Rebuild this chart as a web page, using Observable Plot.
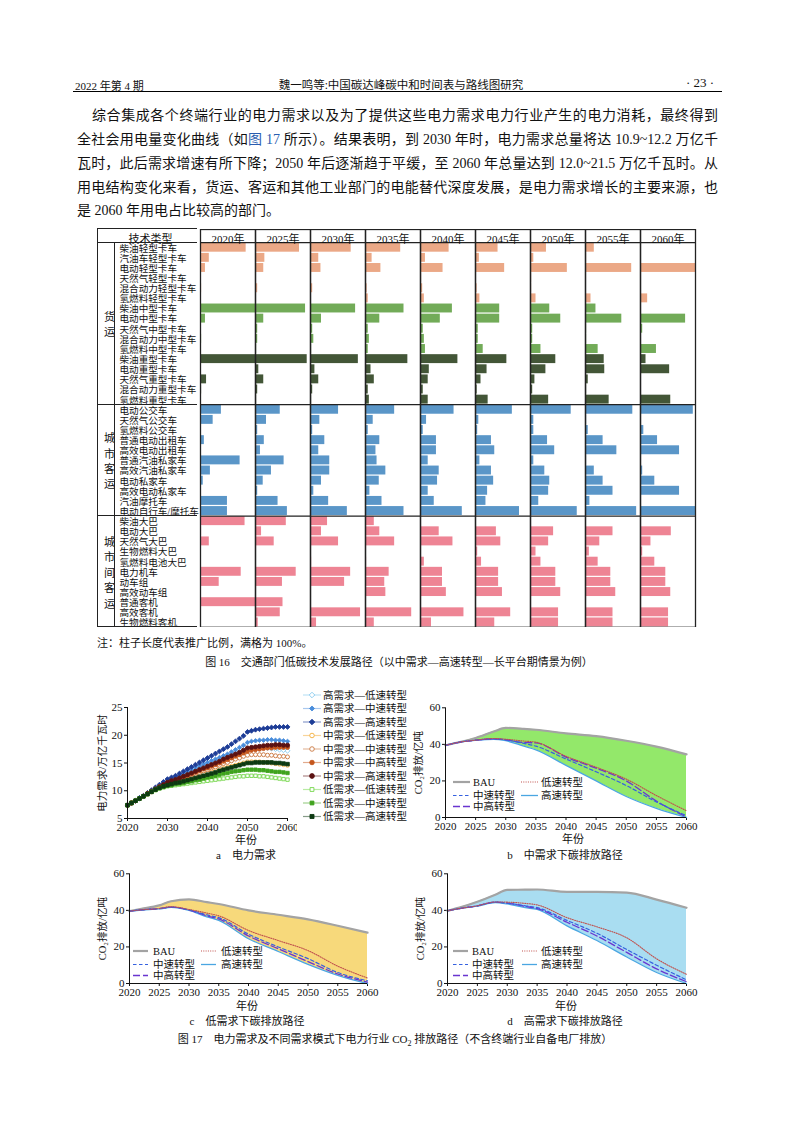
<!DOCTYPE html>
<html><head><meta charset="utf-8">
<script src="https://cdn.jsdelivr.net/npm/d3@7"></script>
<script src="https://cdn.jsdelivr.net/npm/@observablehq/plot@0.6"></script>
<style>
body{margin:0;width:794px;height:1123px;position:relative;background:#fff;overflow:hidden;
 font-family:"Liberation Serif","Noto Sans CJK SC",serif;color:#111}
.abs{position:absolute;white-space:nowrap}
.p{position:absolute;font-size:14px;line-height:24px;white-space:nowrap;text-align:justify;text-align-last:justify}
.cap{position:absolute;font-size:11px;text-align:center;white-space:nowrap}
</style></head><body>
<div class="abs" style="left:75px;top:77px;font-size:11px">2022 年第 4 期</div>
<div class="abs" style="left:0;width:802px;text-align:center;top:76px;font-size:11.5px">魏一鸣等:中国碳达峰碳中和时间表与路线图研究</div>
<div class="abs" style="left:686px;top:75px;font-size:13px">· 23 ·</div>
<div class="abs" style="left:73px;top:91px;width:649px;border-top:1.5px solid #000"></div>

<div class="p" style="left:92px;top:104px;width:626px">综合集成各个终端行业的电力需求以及为了提供这些电力需求电力行业产生的电力消耗，最终得到</div>
<div class="p" style="left:77px;top:128px;width:641px">全社会用电量变化曲线（如<span style="color:#2a5db0">图 17</span> 所示）。结果表明，到 2030 年时，电力需求总量将达 10.9~12.2 万亿千</div>
<div class="p" style="left:77px;top:152px;width:641px">瓦时，此后需求增速有所下降；2050 年后逐渐趋于平缓，至 2060 年总量达到 12.0~21.5 万亿千瓦时。从</div>
<div class="p" style="left:77px;top:176px;width:641px">用电结构变化来看，货运、客运和其他工业部门的电能替代深度发展，是电力需求增长的主要来源，也</div>
<div class="p" style="left:77px;top:199px;text-align:left;text-align-last:left">是 2060 年用电占比较高的部门。</div>

<div id="fig16" class="abs" style="left:97px;top:229px;width:600px;height:399px"></div>
<div class="abs" style="left:97px;top:634px;font-size:11px">注：柱子长度代表推广比例，满格为 100%。</div>
<div class="cap" style="left:0;width:798px;top:653px">图 16　交通部门低碳技术发展路径（以中需求—高速转型—长平台期情景为例）</div>

<div id="figA" class="abs" style="left:90px;top:700px"></div>
<div id="legA" class="abs" style="left:302px;top:688px"></div>
<div id="figB" class="abs" style="left:400px;top:700px"></div>
<div id="legB" class="abs" style="left:400px;top:770px"></div>
<div id="figC" class="abs" style="left:84px;top:866px"></div>
<div id="legC" class="abs" style="left:84px;top:939px"></div>
<div id="figD" class="abs" style="left:402px;top:866px"></div>
<div id="legD" class="abs" style="left:402px;top:939px"></div>

<div class="cap" style="left:196px;width:100px;top:831px">年份</div>
<div class="cap" style="left:146px;width:200px;top:846px">a　电力需求</div>
<div class="cap" style="left:523px;width:100px;top:830px">年份</div>
<div class="cap" style="left:465px;width:200px;top:846px">b　中需求下碳排放路径</div>
<div class="cap" style="left:197px;width:100px;top:997px">年份</div>
<div class="cap" style="left:147px;width:200px;top:1012px">c　低需求下碳排放路径</div>
<div class="cap" style="left:516px;width:100px;top:997px">年份</div>
<div class="cap" style="left:465px;width:200px;top:1012px">d　高需求下碳排放路径</div>
<div class="cap" style="left:0;width:790px;top:1030px">图 17　电力需求及不同需求模式下电力行业 CO<sub style="font-size:8px">2</sub> 排放路径（不含终端行业自备电厂排放）</div>

<script>
const FONT = '"Liberation Serif","Noto Sans CJK SC",serif';

// ---------- Figure 16 data ----------
const years16 = [2020, 2025, 2030, 2035, 2040, 2045, 2050, 2055, 2060];
const groupNames = ["货运", "城市客运", "城市间客运"];
const freightTechs = ["柴油轻型卡车","汽油车轻型卡车","电动轻型卡车","天然气轻型卡车","混合动力轻型卡车","氢燃料轻型卡车",
  "柴油中型卡车","电动中型卡车","天然气中型卡车","混合动力中型卡车","氢燃料中型卡车",
  "柴油重型卡车","电动重型卡车","天然气重型卡车","混合动力重型卡车","氢燃料重型卡车"];
const freightShares = [
  [83,80,74,64,52,41,29,16,0],
  [16,17,15,12,9,7,6,2,0],
  [9,15,19,28,41,53,67,84,100],
  [0,0,0,1,2,0,2,0,0],
  [2,4,4,3,4,3,2,0,0],
  [0,0,0,5,7,8,10,10,13],
  [100,91,82,70,58,44,35,19,0],
  [9,15,20,26,36,44,55,66,82],
  [0,4,4,5,5,5,4,2,4],
  [2,4,6,7,7,5,4,2,0],
  [0,2,2,5,9,14,19,23,29],
  [100,94,87,77,68,57,46,34,10],
  [0,6,8,10,16,21,28,35,53],
  [11,15,15,16,14,10,8,5,0],
  [2,4,4,5,5,3,4,2,0],
  [0,2,2,7,14,23,33,43,55]
];
const cityTechs = ["电动公交车","天然气公交车","氢燃料公交车","普通电动出租车","高效电动出租车","普通汽油私家车",
  "高效汽油私家车","电动私家车","高效电动私家车","汽油摩托车","电动自行车/摩托车"];
const cityShares = [
  [38,45,51,53,61,67,74,86,96],
  [23,20,17,14,11,6,6,2,0],
  [0,4,4,5,5,4,6,5,6],
  [7,16,26,26,29,29,31,32,31],
  [0,9,15,19,29,35,44,57,71],
  [72,52,35,21,14,8,6,2,0],
  [18,29,35,37,34,29,26,16,4],
  [5,14,20,25,31,33,35,32,26],
  [0,4,6,8,14,22,33,50,71],
  [49,41,33,30,25,19,15,8,0],
  [49,58,67,70,76,80,85,93,100]
];
const intercityTechs = ["柴油大巴","电动大巴","天然气大巴","生物燃料大巴","氢燃料电池大巴","电力机车","动车组",
  "高效动车组","普通客机","高效客机","生物燃料客机"];
const intercityShares = [
  [81,56,31,16,0,0,0,0,0],
  [2,11,20,26,34,38,42,50,56],
  [16,34,51,53,59,46,33,26,19],
  [0,0,0,0,0,4,10,7,4],
  [0,0,2,2,7,11,19,23,26],
  [74,74,73,43,40,42,46,46,46],
  [34,49,62,35,40,42,46,46,46],
  [0,0,0,37,47,49,55,55,55],
  [100,50,0,0,0,0,0,0,0],
  [0,45,91,84,79,64,51,50,51],
  [0,5,11,16,20,35,51,50,51]
];
const headerLabel = "技术类型";
const c16 = {light: "#EBA886", medium: "#72AB58", heavy: "#435637", city: "#5A96C8", intercity: "#EE8494"};
function colorOf(group, tech) {
  if (group === groupNames[1]) return c16.city;
  if (group === groupNames[2]) return c16.intercity;
  if (tech.includes("轻型")) return c16.light;
  if (tech.includes("中型")) return c16.medium;
  return c16.heavy;
}
const groups = [
  {name: groupNames[0], techs: freightTechs, shares: freightShares},
  {name: groupNames[1], techs: cityTechs, shares: cityShares},
  {name: groupNames[2], techs: intercityTechs, shares: intercityShares}
];
const rows16 = [], bars16 = [], bounds16 = [0];
let idx = 0;
groups.forEach(g => {
  g.start = idx;
  g.techs.forEach((t, k) => {
    rows16.push({tech: t, row: idx});
    years16.forEach((y, j) => bars16.push({year: y, row: idx, value: g.shares[k][j], color: colorOf(g.name, t)}));
    idx++;
  });
  g.end = idx;
  bounds16.push(idx);
});
const HEAD = 1.3;
const fig16 = Plot.plot({
  width: 600, height: 398,
  marginLeft: 100, marginRight: 0, marginTop: 0, marginBottom: 0,
  style: {fontFamily: FONT, fontSize: "10px", color: "#111", background: "transparent"},
  fx: {domain: years16, padding: 0, axis: null, label: null},
  x: {domain: [0, 100], axis: null},
  y: {domain: [-HEAD, idx], reverse: true, axis: null},
  color: {type: "identity"},
  marks: [
    Plot.rect(bars16.filter(d => d.value > 0), {fx: "year", x1: () => 0, x2: "value", y1: "row", y2: d => d.row + 1,
      fill: "color", insetTop: 0.6, insetBottom: 0.6}),
    Plot.ruleY(bounds16, {stroke: "#222", strokeWidth: 1.3}),
    Plot.frame({stroke: "#222", strokeWidth: 1.3}),
    Plot.text(years16, {fx: d => d, text: d => d + "年", frameAnchor: "top", dy: 6, fontSize: 11}),
    Plot.text(rows16, {fx: () => years16[0], y: d => d.row + 0.5, text: "tech", frameAnchor: "left",
      textAnchor: "start", dx: -81, dy: 0.8, fontSize: 9.6}),
    Plot.text(groups, {fx: () => years16[0], y: d => (d.start + d.end) / 2, text: d => [...d.name].join("\n"),
      frameAnchor: "left", textAnchor: "middle", dx: -91, lineHeight: 1.4, fontSize: 11}),
    Plot.text([headerLabel], {fx: () => years16[0], text: d => d, frameAnchor: "top-left", dx: -50, dy: 6,
      textAnchor: "middle", fontSize: 11})
  ]
});
const f16 = document.getElementById("fig16");
f16.appendChild(fig16);
// label-area borders positioned through the plot's own y scale
const ys16 = fig16.scale("y");
function hline(y, x0, x1) {
  const d = document.createElement("div");
  d.className = "abs";
  d.style.cssText = `left:${x0}px;top:${y - 0.65}px;width:${x1 - x0}px;height:0;border-top:1.3px solid #222`;
  f16.appendChild(d);
}
function vline(x, y0, y1) {
  const d = document.createElement("div");
  d.className = "abs";
  d.style.cssText = `left:${x - 0.65}px;top:${y0}px;width:0;height:${y1 - y0}px;border-left:1.3px solid #222`;
  f16.appendChild(d);
}
[-HEAD, ...bounds16].forEach(v => hline(ys16.apply(v), 0, 100));
vline(0.6, ys16.apply(-HEAD), ys16.apply(idx));
vline(18, ys16.apply(0), ys16.apply(idx));

// ---------- Figure 17a data ----------
const yearsA = [2020,2021,2022,2023,2024,2025,2026,2027,2028,2029,2030,2031,2032,2033,2034,2035,2036,2037,2038,2039,
  2040,2041,2042,2043,2044,2045,2046,2047,2048,2049,2050,2051,2052,2053,2054,2055,2056,2057,2058,2059,2060];
const xTicksA = [2020, 2030, 2040, 2050, 2060];
const yTicksA = [5, 10, 15, 20, 25];
const yLabelA = "电力需求/万亿千瓦时";
const hiLow  = [7.4,7.8,8.2,8.6,9.0,9.5,9.9,10.4,10.8,11.2, 11.6,11.9,12.2,12.5,12.8,13.1,13.4,13.7,14.0,14.3, 14.6,14.9,15.2,15.5,15.8,16.1,16.4,16.7,17.0,17.3, 17.6,17.7,17.8,17.8,17.8,17.7,17.6,17.5,17.4,17.3,17.2];
const hiMid  = [7.4,7.8,8.2,8.7,9.1,9.6,10.0,10.5,10.9,11.4, 11.8,12.1,12.4,12.8,13.2,13.5,13.8,14.2,14.5,14.8, 15.1,15.4,15.7,16.0,16.3,16.6,17.0,17.4,17.8,18.2, 18.7,18.9,19.0,19.1,19.1,19.2,19.2,19.1,19.1,19.0,18.9];
const hiHigh = [7.4,7.8,8.2,8.7,9.1,9.6,10.1,10.6,11.1,11.6, 12.1,12.4,12.7,13.1,13.5,13.9,14.3,14.7,15.1,15.5, 15.9,16.3,16.7,17.1,17.5,17.9,18.4,18.9,19.4,19.9, 20.6,20.8,21.0,21.1,21.2,21.3,21.4,21.5,21.5,21.5,21.5];
const midLow = [7.4,7.8,8.2,8.6,9.0,9.4,9.8,10.2,10.6,10.9, 11.2,11.4,11.6,11.8,12.0,12.2,12.4,12.6,12.8,13.0, 13.2,13.4,13.6,13.8,14.0,14.2,14.4,14.6,14.8,15.0, 15.2,15.2,15.2,15.2,15.1,15.1,15.0,14.9,14.8,14.7,14.6];
const midMid = [7.4,7.8,8.2,8.6,9.0,9.5,9.9,10.3,10.7,11.0, 11.3,11.5,11.8,12.0,12.3,12.5,12.8,13.0,13.3,13.6, 13.8,14.1,14.3,14.6,14.9,15.1,15.4,15.7,15.9,16.2, 16.4,16.5,16.5,16.5,16.5,16.4,16.4,16.3,16.2,16.2,16.1];
const midMidHigh = [7.4,7.8,8.2,8.6,9.0,9.5,9.9,10.3,10.7,11.0, 11.4,11.7,11.9,12.2,12.5,12.7,13.0,13.3,13.6,13.9, 14.1,14.4,14.7,15.0,15.3,15.6,15.9,16.2,16.5,16.8, 17.1,17.3,17.4,17.5,17.6,17.7,17.7,17.8,17.8,17.8,17.8];
const midHigh = [7.4,7.8,8.2,8.6,9.0,9.5,9.9,10.3,10.7,11.1, 11.5,11.8,12.0,12.3,12.6,12.9,13.2,13.5,13.8,14.1, 14.4,14.7,15.0,15.3,15.7,16.0,16.3,16.6,16.9,17.3, 17.7,17.8,17.9,18.0,18.1,18.2,18.2,18.3,18.3,18.2,18.2];
const lowLow = [7.4,7.8,8.2,8.6,9.0,9.4,9.8,10.1,10.4,10.6, 10.8,10.9,11.0,11.1,11.2,11.3,11.4,11.5,11.6,11.7, 11.8,11.9,12.0,12.1,12.2,12.3,12.4,12.5,12.6,12.6, 12.7,12.7,12.7,12.6,12.6,12.5,12.4,12.3,12.2,12.1,12.0];
const lowMid = [7.4,7.8,8.2,8.6,9.0,9.4,9.8,10.2,10.5,10.7, 10.9,11.0,11.2,11.3,11.4,11.6,11.7,11.9,12.0,12.2, 12.4,12.5,12.7,12.9,13.1,13.2,13.4,13.5,13.6,13.7, 13.8,13.8,13.8,13.7,13.7,13.6,13.5,13.4,13.4,13.3,13.2];
const lowHigh = [7.4,7.8,8.2,8.6,9.0,9.4,9.8,10.2,10.5,10.8, 11.0,11.2,11.4,11.5,11.7,11.9,12.1,12.3,12.5,12.7, 12.9,13.1,13.3,13.6,13.8,14.0,14.2,14.4,14.6,14.8, 15.0,15.0,15.1,15.1,15.1,15.1,15.1,15.0,15.0,14.9,14.8];
const seriesNamesA = ["高需求—低速转型","高需求—中速转型","高需求—高速转型","中需求—低速转型","中需求—中速转型",
  "中需求—中高转型","中需求—高速转型","低需求—低速转型","低需求—中速转型","低需求—高速转型"];
const seriesValuesA = [hiLow, hiMid, hiHigh, midLow, midMid, midMidHigh, midHigh, lowLow, lowMid, lowHigh];
const styleA = [
  {symbol: "diamond2", color: "#86C9EE", line: "#BFE3F6", hollow: true, r: 2.2},
  {symbol: "diamond2", color: "#4A8DDB", line: "#A9C8EE", hollow: false, r: 2.0},
  {symbol: "diamond2", color: "#1D3C96", line: "#8B9CCB", hollow: false, r: 2.2},
  {symbol: "circle", color: "#F3AE3A", line: "#F8D49A", hollow: true, r: 2.0},
  {symbol: "circle", color: "#C9773F", line: "#E4BB9E", hollow: true, r: 2.0},
  {symbol: "circle", color: "#C4561C", line: "#E2AA8D", hollow: false, r: 2.0},
  {symbol: "circle", color: "#5B1212", line: "#AD8888", hollow: false, r: 2.1},
  {symbol: "square", color: "#74D64A", line: "#B9EBA4", hollow: true, r: 1.9},
  {symbol: "square", color: "#3FA31D", line: "#9FD18E", hollow: false, r: 1.9},
  {symbol: "square", color: "#0D3A12", line: "#869C88", hollow: false, r: 2.0}
];
const plotA = Plot.plot({
  width: 207, height: 148, marginLeft: 37, marginRight: 10, marginTop: 7, marginBottom: 30,
  style: {fontFamily: FONT, fontSize: "11px", color: "#111", background: "transparent"},
  x: {domain: [2020, 2060], ticks: xTicksA, tickFormat: d => String(d), tickSize: 3, tickPadding: 2, label: null},
  y: {domain: [5, 25], ticks: yTicksA, tickSize: 3, tickPadding: 2, label: null},
  marks: [
    ...seriesValuesA.flatMap((vals, i) => [
      Plot.line(yearsA, {x: yearsA, y: vals, stroke: styleA[i].line, strokeWidth: 1}),
      Plot.dot(yearsA, {x: yearsA, y: vals, symbol: styleA[i].symbol, r: styleA[i].r, stroke: styleA[i].color,
        fill: styleA[i].hollow ? "#fff" : styleA[i].color, strokeWidth: 0.9})
    ]),
    Plot.ruleX([2020], {stroke: "#111"}),
    Plot.ruleY([5], {stroke: "#111"}),
    Plot.text([yLabelA], {text: d => d, frameAnchor: "left", textAnchor: "middle", rotate: -90, dx: -25, fontSize: 10.5})
  ]
});
document.getElementById("figA").appendChild(plotA);

// legend for 17a
const symMap = {diamond2: d3.symbolDiamond2, circle: d3.symbolCircle, square: d3.symbolSquare};
const legA = d3.create("svg").attr("width", 120).attr("height", 140)
  .style("font-family", FONT).style("font-size", "10.5px");
seriesNamesA.forEach((name, i) => {
  const st = styleA[i];
  const g = legA.append("g").attr("transform", `translate(0,${7 + i * 13.5})`);
  g.append("line").attr("x1", 1).attr("x2", 19).attr("stroke", st.line).attr("stroke-width", 1.2);
  g.append("path").attr("d", d3.symbol(symMap[st.symbol], Math.PI * st.r * st.r * 1.3)())
    .attr("transform", "translate(10,0)").attr("stroke", st.color).attr("stroke-width", 0.9)
    .attr("fill", st.hollow ? "#fff" : st.color);
  g.append("text").attr("x", 21).attr("dy", "0.36em").attr("fill", "#111").text(name);
});
document.getElementById("legA").appendChild(legA.node());

// ---------- Figure 17 b/c/d data ----------
const co2Label = "CO₂排放/亿吨";
const co2XTicks = [2020, 2025, 2030, 2035, 2040, 2045, 2050, 2055, 2060];
const co2YTicks = [0, 20, 40, 60];
const scenarioNames = ["BAU", "低速转型", "中速转型", "中高转型", "高速转型"];
const yearsB = [2020, 2022, 2025, 2028, 2030, 2033, 2035, 2040, 2045, 2050, 2055, 2060];
const bauB   = [39.5, 41.0, 43.5, 47.0, 49.0, 48.5, 48.0, 46.0, 44.5, 42.0, 38.8, 34.5];
const lowB   = [39.5, 41.0, 42.3, 43.2, 42.8, 41.8, 41.2, 33.5, 27.5, 21.0, 12.0, 3.7];
const midB   = [39.5, 41.0, 42.3, 43.0, 42.5, 40.5, 39.0, 32.0, 25.0, 17.5, 8.5, 1.0];
const mhB    = [39.5, 41.0, 42.3, 43.0, 42.5, 41.0, 40.8, 33.0, 27.0, 20.0, 9.0, 0.3];
const highB  = [39.5, 41.0, 42.2, 42.8, 42.0, 39.0, 37.0, 28.5, 20.0, 11.5, 5.0, 0.0];
const yearsC = [2020, 2022, 2025, 2027, 2030, 2033, 2035, 2040, 2045, 2050, 2055, 2060];
const bauC   = [39.6, 40.8, 42.7, 45.0, 46.0, 44.5, 43.5, 40.0, 37.6, 35.1, 31.6, 27.8];
const lowC   = [39.6, 40.3, 41.0, 42.0, 40.5, 38.5, 37.0, 29.0, 23.5, 18.0, 9.5, 3.0];
const midC   = [39.6, 40.3, 41.0, 41.8, 40.3, 37.5, 36.0, 27.0, 20.0, 13.6, 6.0, 1.5];
const mhC    = [39.6, 40.3, 41.0, 41.8, 40.2, 37.0, 35.3, 26.0, 19.0, 12.0, 5.2, 0.8];
const highC  = [39.6, 40.2, 40.8, 41.6, 40.0, 36.5, 34.5, 24.5, 17.5, 10.5, 4.5, 0.0];
const yearsD = [2020, 2022, 2025, 2028, 2030, 2033, 2035, 2040, 2045, 2050, 2055, 2060];
const bauD   = [39.8, 41.5, 44.7, 48.5, 51.2, 51.3, 51.4, 50.1, 50.1, 49.7, 45.9, 41.4];
const lowD   = [39.8, 41.0, 42.5, 44.6, 44.5, 43.8, 43.0, 36.0, 31.0, 25.0, 13.5, 5.0];
const midD   = [39.8, 41.0, 42.5, 44.5, 44.0, 42.5, 41.5, 34.5, 27.5, 18.6, 10.0, 2.0];
const mhD    = [39.8, 41.0, 42.5, 44.5, 44.0, 42.2, 41.0, 33.5, 26.0, 17.0, 8.0, 1.0];
const highD  = [39.8, 41.0, 42.3, 44.3, 43.5, 41.5, 40.5, 31.5, 23.5, 14.5, 6.0, 0.0];

const lineStyles = [
  {stroke: "#A3A3A3", width: 2.2, dash: null},
  {stroke: "#C0504D", width: 1.1, dash: "1,1.3"},
  {stroke: "#3561E0", width: 1.2, dash: "3.5,2.5"},
  {stroke: "#6A35D0", width: 1.3, dash: "7,3"},
  {stroke: "#4AA6E2", width: 1.3, dash: null}
];
function co2Plot(years, series, fill, width, height) {
  const order = [0, 4, 3, 2, 1];
  return Plot.plot({
    width, height, marginLeft: 45, marginRight: 14, marginTop: 7.3, marginBottom: height - 7.3 - 109.7,
    style: {fontFamily: FONT, fontSize: "11px", color: "#111", background: "transparent"},
    x: {domain: [2020, 2060], ticks: co2XTicks, tickFormat: d => String(d), tickSize: 3, tickPadding: 2, label: null},
    y: {domain: [0, 60], ticks: co2YTicks, tickSize: 3, tickPadding: 2, label: null},
    marks: [
      Plot.areaY(years, {x: years, y1: series[4], y2: series[0], fill, curve: "monotone-x"}),
      ...order.map(k => Plot.line(years, {x: years, y: series[k], stroke: lineStyles[k].stroke,
        strokeWidth: lineStyles[k].width, strokeDasharray: lineStyles[k].dash, curve: "monotone-x"})),
      Plot.ruleX([2020], {stroke: "#111"}),
      Plot.ruleY([0], {stroke: "#111"}),
      Plot.text([co2Label], {text: d => d, frameAnchor: "left", textAnchor: "middle", rotate: -90, dx: -27, fontSize: 10.5})
    ]
  });
}
document.getElementById("figB").appendChild(co2Plot(yearsB, [bauB, lowB, midB, mhB, highB], "#93E86A", 300, 137));
document.getElementById("figC").appendChild(co2Plot(yearsC, [bauC, lowC, midC, mhC, highC], "#F7D97B", 297, 137));
document.getElementById("figD").appendChild(co2Plot(yearsD, [bauD, lowD, midD, mhD, highD], "#A9DDF1", 298, 138));

// legends for b/c/d
function co2Legend(el, col1x, col2x, lineLen, textGap) {
  const svg = d3.create("svg").attr("width", 200).attr("height", 50)
    .style("font-family", FONT).style("font-size", "10.5px");
  const slots = [[col1x, 0], [col2x, 0], [col1x, 13.5], [col1x, 24.5], [col2x, 13.5]];
  scenarioNames.forEach((name, k) => {
    const [x, y] = slots[k];
    const g = svg.append("g").attr("transform", `translate(${x},${12 + y})`);
    g.append("line").attr("x1", 0).attr("x2", lineLen).attr("stroke", lineStyles[k].stroke)
      .attr("stroke-width", lineStyles[k].width).attr("stroke-dasharray", lineStyles[k].dash);
    g.append("text").attr("x", lineLen + textGap).attr("dy", "0.36em").attr("fill", "#111").text(name);
  });
  document.getElementById(el).appendChild(svg.node());
}
co2Legend("legB", 53, 121, 17, 3);
co2Legend("legC", 49, 117, 15, 5);
co2Legend("legD", 51, 120, 15, 4);
</script>
</body></html>
